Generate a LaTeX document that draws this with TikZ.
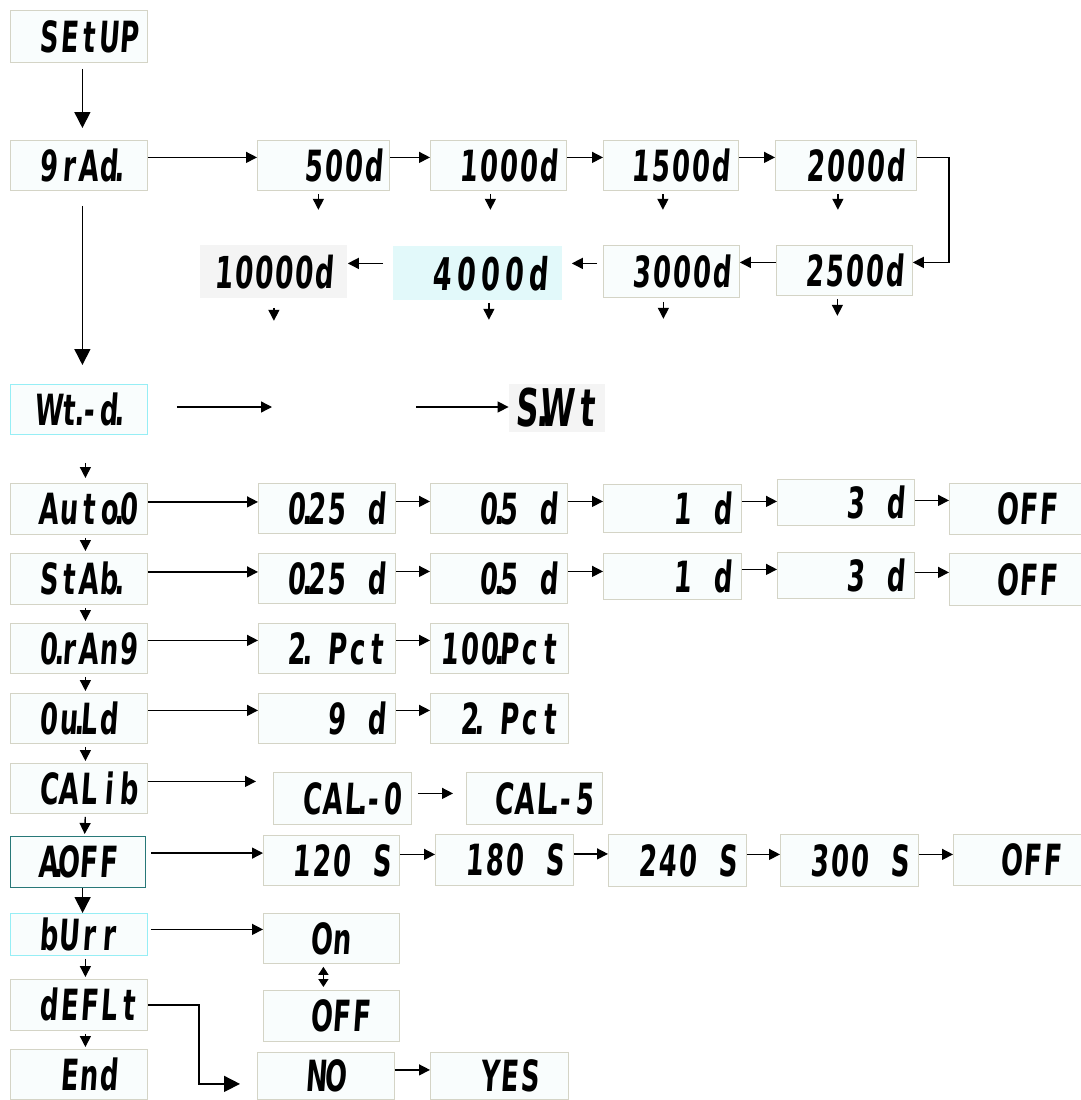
\documentclass[tikz,border=0pt]{standalone}
\usepackage{fontspec}
\usetikzlibrary{arrows.meta,calc}
\newfontfamily\segfont[FakeStretch=0.6,FakeSlant=0.07]{DejaVu Sans}
\definecolor{boxline}{RGB}{212,212,198}
\definecolor{boxfill}{RGB}{249,253,253}
\definecolor{cyanline}{RGB}{150,238,245}
\definecolor{tealline}{RGB}{40,120,120}
\definecolor{cyanfill}{RGB}{226,249,250}
\definecolor{grayfill}{RGB}{244,244,244}
\newlength\cw
\setlength\cw{20pt}
\newcommand\dt{.}
\makeatletter
\def\seg#1{\seg@loop#1\relax}
\def\seg@loop#1{\ifx#1\relax\else\ifx#1\dt\makebox[0pt]{.}\else\ifx#1*\hspace*{\cw}\else\makebox[\cw]{#1}\fi\fi\expandafter\seg@loop\fi}
\makeatother
\newcommand\bx[6][]{\node[box,#1,anchor=north west,minimum width={(#5-#3)*1pt},minimum height={(#6-#4)*1pt}] (#2) at (#3,#4)}
\tikzset{
  box/.style={draw=boxline, fill=boxfill, line width=0.8pt, inner sep=0pt,
    font=\segfont\bfseries\fontsize{43}{43}\selectfont},
  arr/.style={line width=1.4pt, -{Triangle[length=11pt,width=11pt]}},
  bigarr/.style={line width=1.6pt, -{Triangle[length=16pt,width=16pt]}},
  darr/.style={line width=1.4pt, {Triangle[length=8pt,width=10pt]}-{Triangle[length=8pt,width=10pt]}},
}
\begin{document}
\begin{tikzpicture}[x=1pt,y=-1pt]
\useasboundingbox[fill=white] (0,0) rectangle (1081,1100);
% left column
\bx{setup}{10}{10}{147}{62} {\seg{*SEtUP}};
\bx{grad}{10}{140}{147}{190} {\seg{*9rAd\dt*}};
\bx[draw=cyanline]{wtd}{10}{384}{147}{434} {\seg{*Wt\dt-d\dt*}};
\bx{auto}{10}{483}{147}{534} {\seg{*Auto\dt0}};
\bx{stab}{10}{553}{147}{604} {\seg{*StAb\dt*}};
\bx{orang}{10}{623}{147}{673} {\seg{*0\dt rAn9}};
\bx{ould}{10}{693}{147}{743} {\seg{*0u\dt Ld*}};
\bx{calib}{10}{763}{147}{813} {\seg{*CALib}};
\bx[draw=tealline,line width=1.2pt]{aoff}{10}{836}{145}{887} {\seg{*A\dt OFF*}};
\bx[draw=cyanline]{burr}{10}{913}{147}{955} {\seg{*bUrr*}};
\bx{deflt}{10}{979}{147}{1030} {\seg{*dEFLt}};
\bx{end}{10}{1049}{147}{1099} {\seg{**End*}};
% grad rows
\bx{g500}{257}{140}{389}{190} {\seg{**500d}};
\bx{g1000}{430}{140}{566}{190} {\seg{*1000d}};
\bx{g1500}{603}{140}{738}{190} {\seg{*1500d}};
\bx{g2000}{775}{140}{916}{190} {\seg{*2000d}};
\bx{g2500}{776}{245}{912}{295} {\seg{*2500d}};
\bx{g3000}{603}{245}{739}{297} {\seg{*3000d}};
\bx[draw=none,fill=cyanfill,font=\segfont\bfseries\fontsize{45}{45}\selectfont]{g4000}{393}{246}{562}{300} {\setlength\cw{24pt}\seg{*4000d}};
\bx[draw=none,fill=grayfill,font=\segfont\bfseries\fontsize{44}{44}\selectfont]{g10000}{200}{245}{347}{298} {\seg{10000d}};
% weight
\node[box,draw=none,fill=grayfill,font=\segfont\bfseries\fontsize{52}{52}\selectfont,minimum width=96pt,minimum height=48pt] (swt) at (557,408) {\setlength\cw{30pt}\seg{S\dt Wt}};
\coordinate (w1) at (272,407);
\coordinate (w2) at (416,407);
% auto zero
\bx{a1}{258}{483}{395}{533} {\seg{*0\dt25*d}};
\bx{a2}{430}{483}{567}{533} {\seg{**0\dt5*d}};
\bx{a3}{603}{484}{741}{532} {\seg{***1*d}};
\bx{a4}{777}{479}{914}{525} {\seg{***3*d}};
\bx{a5}{949}{483}{1086}{534} {\seg{**OFF*}};
% stab
\bx{s1}{258}{553}{395}{603} {\seg{*0\dt25*d}};
\bx{s2}{430}{553}{567}{603} {\seg{**0\dt5*d}};
\bx{s3}{603}{553}{741}{599} {\seg{***1*d}};
\bx{s4}{777}{552}{914}{598} {\seg{***3*d}};
\bx{s5}{949}{553}{1086}{605} {\seg{**OFF*}};
% orang
\bx{o1}{258}{623}{395}{673} {\seg{*2\dt*Pct}};
\bx{o2}{430}{623}{568}{673} {\seg{100\dt Pct}};
% ould
\bx{u1}{258}{693}{395}{743} {\seg{***9*d}};
\bx{u2}{430}{693}{568}{743} {\seg{*2\dt*Pct}};
% calib
\bx{c1}{273}{772}{411}{824} {\seg{*CAL\dt-0}};
\bx{c2}{466}{772}{602}{824} {\seg{*CAL\dt-5}};
% auto off
\bx{f1}{263}{835}{399}{885} {\seg{*120*S}};
\bx{f2}{435}{834}{573}{885} {\seg{*180*S}};
\bx{f3}{608}{834}{746}{886} {\seg{*240*S}};
\bx{f4}{780}{834}{918}{886} {\seg{*300*S}};
\bx{f5}{953}{834}{1090}{885} {\seg{**OFF*}};
% buzzer
\bx{on}{263}{913}{399}{963} {\seg{**On**}};
\bx{off}{263}{990}{399}{1041} {\seg{**OFF*}};
% default
\bx{no}{257}{1052}{394}{1099} {\seg{**NO**}};
\bx{yes}{430}{1052}{568}{1099} {\seg{**YES*}};

% left column connectors
\draw[bigarr, shorten <=6pt, shorten >=12pt] ([xshift=3.5pt]setup.south) -- ([xshift=3.5pt]grad.north);
\draw[bigarr, shorten <=15pt, shorten >=19pt] ([xshift=3.5pt]grad.south) -- ([xshift=3.5pt]wtd.north);
\draw[arr, shorten <=28pt, shorten >=5pt] ([xshift=6.5pt]wtd.south) -- ([xshift=6.5pt]auto.north);
\foreach \a/\b in {auto/stab,stab/orang,orang/ould,ould/calib,calib/aoff,burr/deflt,deflt/end}
  \draw[arr, shorten <=3pt, shorten >=2pt] ([xshift=6.5pt]\a.south) -- ([xshift=6.5pt]\b.north);
\draw[bigarr] ([xshift=4.5pt]aoff.south) -- ([xshift=4.5pt]aoff.south |- burr.north);

% grad row connectors
\foreach \a/\b in {grad/g500,g500/g1000,g1000/g1500,g1500/g2000}
  \draw[arr] ([yshift=8pt]\a.east) -- ([yshift=8pt]\b.west);
\draw[arr] ([yshift=8pt]g2000.east) -- ++(32,0) |- ([yshift=8pt]g2500.east);
\draw[arr] ([yshift=8pt]g2500.west) -- ([yshift=8pt]g2500.west -| g3000.east);
\draw[arr, shorten <=6pt, shorten >=9pt] ([yshift=8pt]g3000.west) -- ([yshift=8pt]g3000.west -| g4000.east);
\draw[arr, shorten <=10pt] ([yshift=8pt]g3000.west -| g4000.west) -- ([yshift=8pt]g3000.west -| g10000.east);
% dangling down arrows
\draw[arr] ([xshift=-5pt,yshift=-3pt]g500.south) -- ([xshift=-5pt,yshift=-19pt]g500.south);
\foreach \n in {g1000,g1500,g2000}
  \draw[arr] ([xshift=-8pt,yshift=-3pt]\n.south) -- ([xshift=-8pt,yshift=-19pt]\n.south);
\draw[arr] ([xshift=-7pt,yshift=-3pt]g2500.south) -- ([xshift=-7pt,yshift=-20pt]g2500.south);
\draw[arr] ([xshift=-8pt,yshift=-4pt]g3000.south) -- ([xshift=-8pt,yshift=-21pt]g3000.south);
\draw[arr] ([xshift=11pt,yshift=-2pt]g4000.south) -- ([xshift=11pt,yshift=-19pt]g4000.south);
\draw[arr] ([yshift=-9pt]g10000.south) -- ([yshift=-22pt]g10000.south);

% weight row
\draw[arr, shorten <=29pt] (wtd.east |- w1) -- (w1);
\draw[arr] (w2) -- (w2 -| swt.west);

% auto / stab rows
\foreach \a/\b in {auto/a1,a1/a2,a2/a3,stab/s1,s1/s2,s2/s3,s3/s4}
  \draw[arr] ([yshift=7pt]\a.east) -- ([yshift=7pt]\a.east -| \b.west);
\draw[arr] ([yshift=7pt]a3.east) -- ([yshift=7pt]a3.east -| a4.west);
\draw[arr] ([yshift=2pt]a4.east) -- ([yshift=2pt]a4.east -| a5.west);
\draw[arr] ([yshift=3pt]s4.east) -- ([yshift=3pt]s4.east -| s5.west);
% orang / ould rows
\foreach \a/\b in {orang/o1,o1/o2,ould/u1,u1/u2}
  \draw[arr] ([yshift=8pt]\a.east) -- ([yshift=8pt]\a.east -| \b.west);
% calib row
\draw[arr, shorten >=17pt] ([yshift=7pt]calib.east) -- ([yshift=7pt]calib.east -| c1.west);
\draw[arr, shorten <=6pt, shorten >=13pt] ([yshift=5pt]c1.east) -- ([yshift=5pt]c1.east -| c2.west);
% auto off row
\draw[arr, shorten <=5pt] ([yshift=9pt]aoff.east) -- ([yshift=9pt]aoff.east -| f1.west);
\foreach \a/\b in {f1/f2,f2/f3,f3/f4,f4/f5}
  \draw[arr] ([yshift=6pt]\a.east) -- ([yshift=6pt]\a.east -| \b.west);
% buzzer
\draw[arr, shorten <=3pt] ([yshift=5pt]burr.east) -- ([yshift=5pt]burr.east -| on.west);
\draw[darr, shorten <=3pt, shorten >=3pt] ([xshift=-8pt]on.south) -- ([xshift=-8pt]on.south |- off.north);
% default
\draw[bigarr, shorten >=17pt] (deflt.east) -- ++(51,0) |- ([yshift=-8pt]no.west);
\draw[arr] ([yshift=6pt]no.east) -- ([yshift=6pt]no.east -| yes.west);
\end{tikzpicture}
\end{document}
